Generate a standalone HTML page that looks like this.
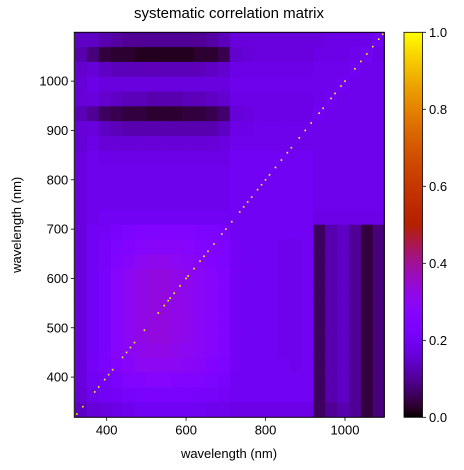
<!DOCTYPE html>
<html><head><meta charset="utf-8"><style>
body{margin:0;background:#fff;}
svg{display:block;font-family:"Liberation Sans","DejaVu Sans",sans-serif;}
</style></head><body>
<svg id="chart" width="464" height="470" viewBox="0 0 464 470">
<text x="229" y="18" text-anchor="middle" font-size="15" fill="#000">systematic correlation matrix</text>
<g id="heat"></g>
<g id="diag"></g>
<rect x="74.3" y="32.3" width="310" height="385" fill="none" stroke="#000" stroke-width="1"/>
<g id="xt"></g>
<g id="yt"></g>
<text x="229" y="458" text-anchor="middle" font-size="13">wavelength (nm)</text>
<text transform="translate(21,224.8) rotate(-90)" text-anchor="middle" font-size="13">wavelength (nm)</text>
<defs><linearGradient id="cbg" x1="0" y1="1" x2="0" y2="0"></linearGradient></defs>
<rect x="404" y="32.3" width="18.5" height="385" fill="url(#cbg)" stroke="#000" stroke-width="0.8"/>
<g id="ct"></g>
</svg>
<script>
const binStart = 320, binWidth = 30;
const S = [0.06,0.12,0.14,0.1,0.04,0.08];
const M = [0.17,0.2,0.23,0.27,0.3,0.32,0.33,0.33,0.32,0.31,0.29,0.27,0.25,0.21,0.2,0.2,0.2,0.19,0.19,0.2];
const rowValues = [
 [0.14,0.16,0.17,0.18,0.19,0.2,0.2,0.2,0.2,0.2,0.2,0.19,0.19,0.18,0.18,0.18,0.18,0.18,0.18,0.18,0.06,0.1,0.12,0.1,0.04,0.08],
 [0.16,0.19,0.2,0.21,0.22,0.23,0.23,0.23,0.23,0.23,0.22,0.22,0.21,0.2,0.2,0.2,0.2,0.2,0.2,0.2].concat(S),
 [0.17,0.2,0.21,0.23,0.25,0.26,0.27,0.27,0.26,0.26,0.25,0.24,0.23,0.2,0.2,0.2,0.2,0.2,0.2,0.2].concat(S),
 [0.17,0.21,0.23,0.26,0.28,0.3,0.3,0.3,0.3,0.29,0.28,0.26,0.24,0.21,0.2,0.2,0.2,0.2,0.19,0.2].concat(S),
 [0.17,0.2,0.23,0.27,0.29,0.31,0.32,0.32,0.31,0.3,0.29,0.27,0.25,0.21,0.2,0.2,0.2,0.19,0.19,0.2].concat(S),
 M.concat(S), M.concat(S), M.concat(S), M.concat(S), M.concat(S),
 [0.17,0.2,0.22,0.25,0.28,0.3,0.31,0.31,0.3,0.29,0.28,0.26,0.24,0.21,0.2,0.2,0.2,0.19,0.19,0.2].concat(S),
 [0.17,0.2,0.22,0.24,0.26,0.27,0.28,0.28,0.28,0.27,0.26,0.25,0.24,0.21,0.2,0.2,0.2,0.19,0.19,0.2].concat(S),
 [0.17,0.2,0.21,0.23,0.24,0.25,0.25,0.25,0.25,0.25,0.24,0.24,0.23,0.2,0.2,0.2,0.2,0.2,0.2,0.2].concat(S),
 [0.17,0.19,0.2,0.2,0.2,0.2,0.2,0.2,0.2,0.2,0.2,0.2,0.2,0.2,0.2,0.2,0.2,0.2,0.2,0.2,0.18,0.18,0.18,0.18,0.18,0.18],
 [0.17,0.19,0.19,0.19,0.19,0.19,0.19,0.19,0.19,0.19,0.19,0.19,0.19,0.2,0.2,0.2,0.2,0.2,0.2,0.2,0.19,0.19,0.19,0.19,0.19,0.19],
 [0.17,0.19,0.19,0.19,0.19,0.19,0.19,0.19,0.19,0.19,0.19,0.19,0.19,0.2,0.2,0.2,0.2,0.2,0.2,0.2,0.19,0.19,0.19,0.19,0.19,0.19],
 [0.17,0.19,0.19,0.19,0.19,0.19,0.19,0.19,0.19,0.19,0.19,0.19,0.19,0.2,0.2,0.2,0.2,0.2,0.2,0.2,0.19,0.19,0.19,0.19,0.19,0.19],
 [0.17,0.19,0.18,0.18,0.18,0.18,0.18,0.18,0.18,0.18,0.18,0.18,0.18,0.2,0.2,0.2,0.2,0.2,0.2,0.2,0.19,0.19,0.19,0.19,0.19,0.19],
 [0.16,0.18,0.16,0.16,0.16,0.16,0.16,0.16,0.16,0.16,0.16,0.16,0.17,0.19,0.19,0.19,0.19,0.19,0.19,0.19,0.19,0.19,0.19,0.19,0.19,0.19],
 [0.16,0.17,0.14,0.13,0.12,0.12,0.12,0.12,0.12,0.12,0.12,0.12,0.14,0.18,0.18,0.19,0.19,0.19,0.19,0.19,0.19,0.19,0.19,0.19,0.19,0.19],
 [0.13,0.1,0.06,0.05,0.04,0.04,0.03,0.03,0.03,0.04,0.04,0.05,0.07,0.16,0.17,0.18,0.18,0.18,0.18,0.18,0.2,0.19,0.19,0.19,0.19,0.19],
 [0.16,0.17,0.15,0.14,0.13,0.13,0.12,0.12,0.12,0.13,0.13,0.14,0.15,0.18,0.18,0.18,0.18,0.18,0.18,0.18,0.19,0.2,0.19,0.19,0.19,0.19],
 [0.16,0.18,0.17,0.17,0.17,0.17,0.17,0.17,0.17,0.17,0.17,0.17,0.17,0.19,0.19,0.19,0.19,0.19,0.19,0.19,0.19,0.19,0.2,0.19,0.19,0.19],
 [0.15,0.16,0.14,0.13,0.13,0.13,0.13,0.13,0.13,0.13,0.13,0.14,0.15,0.18,0.18,0.18,0.18,0.18,0.18,0.18,0.19,0.19,0.19,0.2,0.19,0.19],
 [0.12,0.08,0.04,0.03,0.03,0.02,0.02,0.02,0.02,0.02,0.03,0.03,0.05,0.15,0.16,0.17,0.17,0.17,0.17,0.17,0.18,0.18,0.18,0.19,0.2,0.18],
 [0.14,0.14,0.12,0.11,0.1,0.1,0.1,0.1,0.1,0.1,0.1,0.11,0.13,0.17,0.17,0.17,0.17,0.17,0.17,0.17,0.17,0.18,0.18,0.18,0.18,0.2]
];
const diagonalWavelengths = [325,340,370,380,395,405,415,440,450,460,470,495,530,545,555,560,570,585,600,605,620,635,645,655,670,690,700,715,735,745,755,765,780,790,800,810,825,840,855,865,885,900,915,935,945,965,975,990,1000,1025,1040,1055,1070,1085,1095];
const diagonalValue = 1.0;
const xTicks = [400,600,800,1000];
const yTicks = [400,500,600,700,800,900,1000];
const cbTicks = [0.0,0.2,0.4,0.6,0.8,1.0];
const cbLabels = ["0.0","0.2","0.4","0.6","0.8","1.0"];

const NS = "http://www.w3.org/2000/svg";
const X0=74.3,X1=384.3,Y0=32.3,Y1=417.3,W0=318.5,W1=1099;
const xs = w => X0 + (w-W0)/(W1-W0)*(X1-X0);
const ys = w => Y1 - (w-W0)/(W1-W0)*(Y1-Y0);
const cbY = v => Y1 - v*(Y1-Y0);
function cmap(v){
  v=Math.max(0,Math.min(1,v));
  const r=Math.sqrt(v), g=v*v*v, b=Math.max(0,Math.sin(2*Math.PI*v));
  return `rgb(${Math.round(r*255)},${Math.round(g*255)},${Math.round(b*255)})`;
}
const heat=document.getElementById('heat');
rowValues.forEach((row,i)=>{
  row.forEach((v,j)=>{
    const a=Math.max(binStart+j*binWidth,W0), b=Math.min(binStart+(j+1)*binWidth,W1);
    const c=Math.max(binStart+i*binWidth,W0), d=Math.min(binStart+(i+1)*binWidth,W1);
    const r=document.createElementNS(NS,'rect');
    r.setAttribute('x',xs(a)); r.setAttribute('width',xs(b)-xs(a)+0.5);
    r.setAttribute('y',ys(d)); r.setAttribute('height',ys(c)-ys(d)+0.5);
    r.setAttribute('fill',cmap(v));
    
    
    heat.appendChild(r);
  });
});
const diag=document.getElementById('diag');
diagonalWavelengths.forEach(w=>{
  const r=document.createElementNS(NS,'rect');
  r.setAttribute('x',xs(w)-0.8); r.setAttribute('y',ys(w)-0.8);
  r.setAttribute('width',1.6); r.setAttribute('height',1.6);
  r.setAttribute('fill',cmap(diagonalValue));
  
  
  diag.appendChild(r);
});
function line(g,x1,y1,x2,y2){const l=document.createElementNS(NS,'line');l.setAttribute('x1',x1);l.setAttribute('y1',y1);l.setAttribute('x2',x2);l.setAttribute('y2',y2);l.setAttribute('stroke','#000');l.setAttribute('stroke-width','0.8');


g.appendChild(l);}
function txt(g,x,y,s,anchor){const t=document.createElementNS(NS,'text');t.setAttribute('x',x);t.setAttribute('y',y);t.setAttribute('font-size','13');t.setAttribute('text-anchor',anchor);t.textContent=s;


g.appendChild(t);}
const xt=document.getElementById('xt');
xTicks.forEach(t=>{line(xt,xs(t),Y1,xs(t),Y1+3.5);txt(xt,xs(t),Y1+17,String(t),'middle');});
const yt=document.getElementById('yt');
yTicks.forEach(t=>{line(yt,X0-3.5,ys(t),X0,ys(t));txt(yt,X0-6,ys(t)+4.5,String(t),'end');});
const ct=document.getElementById('ct');
cbTicks.forEach((t,i)=>{line(ct,422.5,cbY(t),426,cbY(t));txt(ct,429,cbY(t)+4.5,cbLabels[i],'start');});
const grad=document.getElementById('cbg');
for(let k=0;k<=50;k++){const s=document.createElementNS(NS,'stop');s.setAttribute('offset',k/50);s.setAttribute('stop-color',cmap(k/50));grad.appendChild(s);}
</script>
</body></html>
